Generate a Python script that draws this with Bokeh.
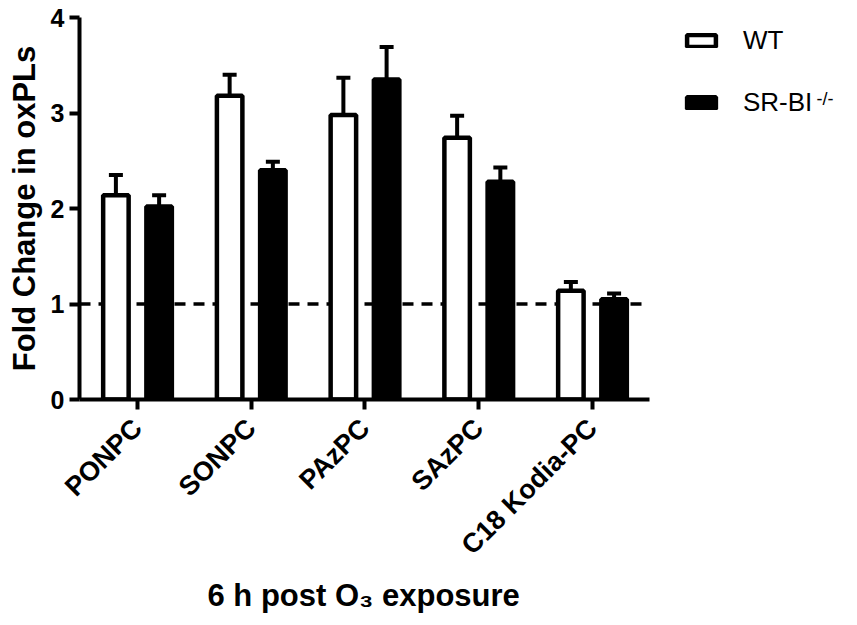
import math
from bokeh.plotting import figure
from bokeh.models import (Range1d, FixedTicker, Whisker, TeeHead, ColumnDataSource,
                          Legend, LegendItem, Label, Title)
from bokeh.embed import file_html
from bokeh.resources import INLINE

categories = ["PONPC", "SONPC", "PAzPC", "SAzPC", "C18 Kodia-PC"]
wt_mean = [2.14, 3.18, 2.98, 2.74, 1.14]
wt_sem = [0.21, 0.22, 0.39, 0.23, 0.09]
sr_mean = [2.02, 2.40, 3.35, 2.28, 1.05]
sr_sem = [0.12, 0.09, 0.34, 0.15, 0.06]
y_ticks = [0, 1, 2, 3, 4]
reference_level = 1
series_names = ["WT", "SR-BI"]
FONT = "Liberation Sans"

offset = 0.19
bar_w = 0.224
idx = list(range(len(categories)))
wt_x = [i - offset for i in idx]
sr_x = [i + offset for i in idx]

x_start, x_axis_end, x_frame_end = -0.51, 4.5, 6.33

wt_src = ColumnDataSource(dict(x=wt_x, top=wt_mean,
                               upper=[m + s for m, s in zip(wt_mean, wt_sem)]))
sr_src = ColumnDataSource(dict(x=sr_x, top=sr_mean,
                               upper=[m + s for m, s in zip(sr_mean, sr_sem)]))

p = figure(width=857, height=625, output_backend="svg", toolbar_location=None,
           x_range=Range1d(x_start, x_frame_end), y_range=Range1d(0, 4),
           min_border_left=79, min_border_right=0, min_border_top=17, min_border_bottom=226)
p.outline_line_color = None
p.xgrid.visible = False
p.ygrid.visible = False
p.background_fill_color = "white"
p.border_fill_color = "white"

# dashed reference line (behind bars), limited to the axis extent
p.segment(x0=[x_start], x1=[x_axis_end], y0=[reference_level], y1=[reference_level],
          line_color="black", line_width=3.5, line_dash="11 8")

r_wt = p.vbar(x="x", top="top", bottom=0, width=bar_w, source=wt_src,
              fill_color="white", line_color="black", line_width=4.5)
r_sr = p.vbar(x="x", top="top", bottom=0, width=bar_w, source=sr_src,
              fill_color="black", line_color="black", line_width=4.5)

for src in (wt_src, sr_src):
    p.add_layout(Whisker(base="x", lower="top", upper="upper", source=src,
                         line_color="black", line_width=4,
                         upper_head=TeeHead(size=14, line_width=4, line_color="black"),
                         lower_head=None))

# axes
for ax in (p.xaxis[0], p.yaxis[0]):
    ax.axis_line_width = 4
    ax.major_tick_line_width = 4
    ax.major_tick_out = 10
    ax.major_tick_in = 0
    ax.minor_tick_line_color = None
    ax.major_label_text_font = FONT
    ax.major_label_text_font_style = "bold"
    ax.major_label_text_color = "black"
    ax.axis_label_text_font = FONT
    ax.axis_label_text_font_style = "bold"
    ax.axis_label_text_color = "black"

p.xaxis.bounds = (x_start, x_axis_end)

p.yaxis.ticker = FixedTicker(ticks=y_ticks)
p.yaxis.major_label_text_font_size = "25px"
p.yaxis.major_label_standoff = 5
p.yaxis.axis_label = "Fold Change in oxPLs"
p.yaxis.axis_label_text_font_size = "31px"
p.yaxis.axis_label_standoff = 6

p.xaxis.ticker = FixedTicker(ticks=idx)
p.xaxis.major_label_overrides = {i: c for i, c in zip(idx, categories)}
p.xaxis.major_label_orientation = math.pi / 4
p.xaxis.major_label_text_font_size = "27px"
p.xaxis.major_label_standoff = 14

p.add_layout(Title(text="6 h post O\u2083 exposure", align="left", offset=128,
                   text_font=FONT, text_font_style="bold", text_font_size="31px",
                   text_color="black", standoff=4), "below")

legend = Legend(items=[LegendItem(label=series_names[0], renderers=[r_wt]),
                       LegendItem(label=series_names[1], renderers=[r_sr])],
                location=(604, 281), orientation="vertical",
                glyph_width=36, glyph_height=15, label_height=30,
                label_standoff=24, spacing=31, padding=0, margin=0,
                label_text_font=FONT, label_text_font_size="26px",
                label_text_color="black",
                border_line_color=None, background_fill_alpha=0)
p.add_layout(legend)

p.add_layout(Label(x=737, y=311, x_units="screen", y_units="screen", text="-/-",
                   text_font=FONT, text_font_size="18px", text_color="black",
                   text_baseline="top", text_align="left"))

open("out.html", "w").write(file_html(p, INLINE))
